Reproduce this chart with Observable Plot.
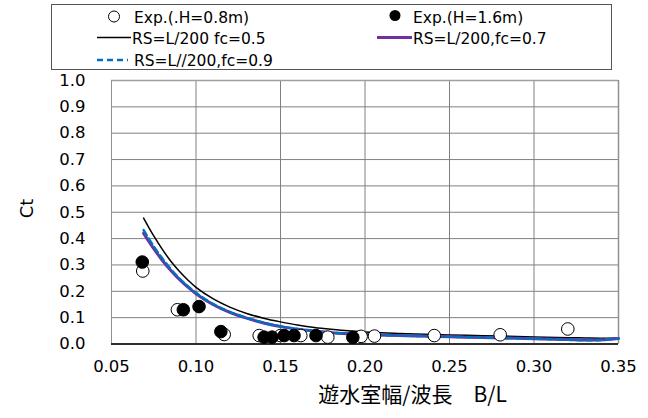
<!DOCTYPE html>
<html><head><meta charset="utf-8">
<script src="https://cdn.jsdelivr.net/npm/d3@7"></script>
<script src="https://cdn.jsdelivr.net/npm/@observablehq/plot@0.6"></script>
<style>
body{margin:0;background:#fff;}
#wrap{position:relative;width:648px;height:418px;}
#legend{position:absolute;left:0;top:0;}
</style>
</head><body><div id="wrap"></div>
<script>
// ---- data ----
const openX  = [0.0685, 0.089, 0.1167, 0.1374, 0.150, 0.162, 0.178, 0.1977, 0.2056, 0.241, 0.280, 0.320];
const openY  = [0.277, 0.130, 0.036, 0.032, 0.032, 0.032, 0.026, 0.029, 0.030, 0.032, 0.035, 0.057];
const fillX  = [0.0682, 0.0925, 0.1018, 0.1147, 0.1403, 0.145, 0.1522, 0.158, 0.171, 0.1928];
const fillY  = [0.311, 0.130, 0.142, 0.047, 0.026, 0.026, 0.032, 0.032, 0.032, 0.025];
const curveX = [0.069,0.075,0.08,0.085,0.09,0.095,0.10,0.11,0.12,0.13,0.14,0.15,0.16,0.17,0.18,0.19,0.20,0.22,0.24,0.26,0.28,0.30,0.32,0.33,0.34,0.35];
const fc05   = [0.478,0.41,0.36,0.315,0.277,0.244,0.215,0.172,0.14,0.116,0.098,0.084,0.072,0.063,0.056,0.05,0.046,0.04,0.036,0.033,0.03,0.027,0.024,0.023,0.022,0.023];
const fc07   = [0.42,0.362,0.318,0.28,0.246,0.217,0.191,0.15,0.12,0.098,0.08,0.066,0.056,0.049,0.043,0.039,0.036,0.032,0.029,0.026,0.023,0.02,0.017,0.015,0.016,0.021];
const fc09   = [0.432,0.37,0.325,0.285,0.25,0.22,0.194,0.152,0.122,0.099,0.081,0.067,0.057,0.049,0.043,0.039,0.036,0.032,0.029,0.026,0.023,0.02,0.016,0.014,0.015,0.021];
const xTicks = [0.05,0.10,0.15,0.20,0.25,0.30,0.35];
const yTicks = [0,0.1,0.2,0.3,0.4,0.5,0.6,0.7,0.8,0.9,1.0];
const seriesNames = ["Exp.(.H=0.8m)","Exp.(H=1.6m)","RS=L/200 fc=0.5","RS=L/200,fc=0.7","RS=L//200,fc=0.9"];
const xLabel = "遊水室幅/波長\u3000B/L";
const yLabel = "Ct";

const openPts = openX.map((x,i)=>({x, y: openY[i]}));
const fillPts = fillX.map((x,i)=>({x, y: fillY[i]}));
const c05 = curveX.map((x,i)=>({x, y: fc05[i]}));
const c07 = curveX.map((x,i)=>({x, y: fc07[i]}));
const c09 = curveX.map((x,i)=>({x, y: fc09[i]}));

const chart = Plot.plot({
  width: 648, height: 418,
  marginLeft: 111, marginRight: 30, marginTop: 80, marginBottom: 74.5,
  style: {fontFamily: "DejaVu Sans", fontSize: "16.5px", color: "#000", background: "#fff"},
  x: {domain: [0.05, 0.35]},
  y: {domain: [0, 1]},
  marks: [
    Plot.gridX(xTicks, {stroke: "#808080", strokeOpacity: 1}),
    Plot.gridY(yTicks, {stroke: "#808080", strokeOpacity: 1}),
    Plot.ruleY([1], {stroke: "#a0a0a0", strokeWidth: 1.5}),
    Plot.ruleX([0.35], {stroke: "#909090", strokeWidth: 1.5}),
    Plot.ruleX([0.05], {stroke: "#909090", strokeWidth: 1}),
    Plot.axisX({ticks: xTicks, tickFormat: ".2f", tickSize: 0, tickPadding: 16, label: null}),
    Plot.axisY({ticks: yTicks, tickFormat: ".1f", tickSize: 0, tickPadding: 26, label: null}),
    Plot.line(c05, {x: "x", y: "y", stroke: "#000", strokeWidth: 1.5, curve: "catmull-rom"}),
    Plot.line(c07, {x: "x", y: "y", stroke: "#7030A0", strokeWidth: 3, curve: "catmull-rom"}),
    Plot.line(c09, {x: "x", y: "y", stroke: "#0070C0", strokeWidth: 2.5, strokeDasharray: "6,4", curve: "catmull-rom"}),
    Plot.ruleY([0], {stroke: "#000", strokeWidth: 1.5}),
    Plot.dot(openPts, {x: "x", y: "y", r: 6.3, fill: "#fff", stroke: "#000", strokeWidth: 1}),
    Plot.dot(fillPts, {x: "x", y: "y", r: 6.3, fill: "#000", stroke: "#000", strokeWidth: 1}),
    Plot.text([xLabel], {frameAnchor: "bottom", dx: 47.5, dy: 58, fontSize: 21, fontFamily: "Noto Sans CJK JP", fill: "#000"}),
    Plot.text([yLabel], {frameAnchor: "left", rotate: -90, dx: -84, dy: 6, fontSize: 18, fill: "#000"})
  ]
});
const wrap = document.getElementById("wrap");
wrap.append(chart);

// ---- legend ----
const lg = d3.create("svg").attr("id","legend").attr("width",648).attr("height",75)
  .style("font-family","DejaVu Sans").style("font-size","15.5px");
lg.append("rect").attr("x",51.5).attr("y",4.5).attr("width",560).attr("height",65)
  .attr("fill","#fff").attr("stroke","#555").attr("stroke-width",1);
lg.append("circle").attr("cx",114).attr("cy",16.5).attr("r",5.5).attr("fill","#fff").attr("stroke","#000");
lg.append("text").attr("x",134).attr("y",22.5).text(seriesNames[0]);
lg.append("circle").attr("cx",395).attr("cy",15.5).attr("r",5.5).attr("fill","#000");
lg.append("text").attr("x",413).attr("y",22.5).text(seriesNames[1]);
lg.append("line").attr("x1",97).attr("x2",131).attr("y1",37.5).attr("y2",37.5).attr("stroke","#000").attr("stroke-width",1.5);
lg.append("text").attr("x",132).attr("y",43.5).text(seriesNames[2]);
lg.append("line").attr("x1",377).attr("x2",412).attr("y1",37.5).attr("y2",37.5).attr("stroke","#7030A0").attr("stroke-width",3);
lg.append("text").attr("x",413).attr("y",43.5).text(seriesNames[3]);
lg.append("line").attr("x1",97).attr("x2",128).attr("y1",60).attr("y2",60).attr("stroke","#0070C0").attr("stroke-width",2.5).attr("stroke-dasharray","6,4");
lg.append("text").attr("x",134).attr("y",65.5).text(seriesNames[4]);
wrap.append(lg.node());
</script>
</body></html>
